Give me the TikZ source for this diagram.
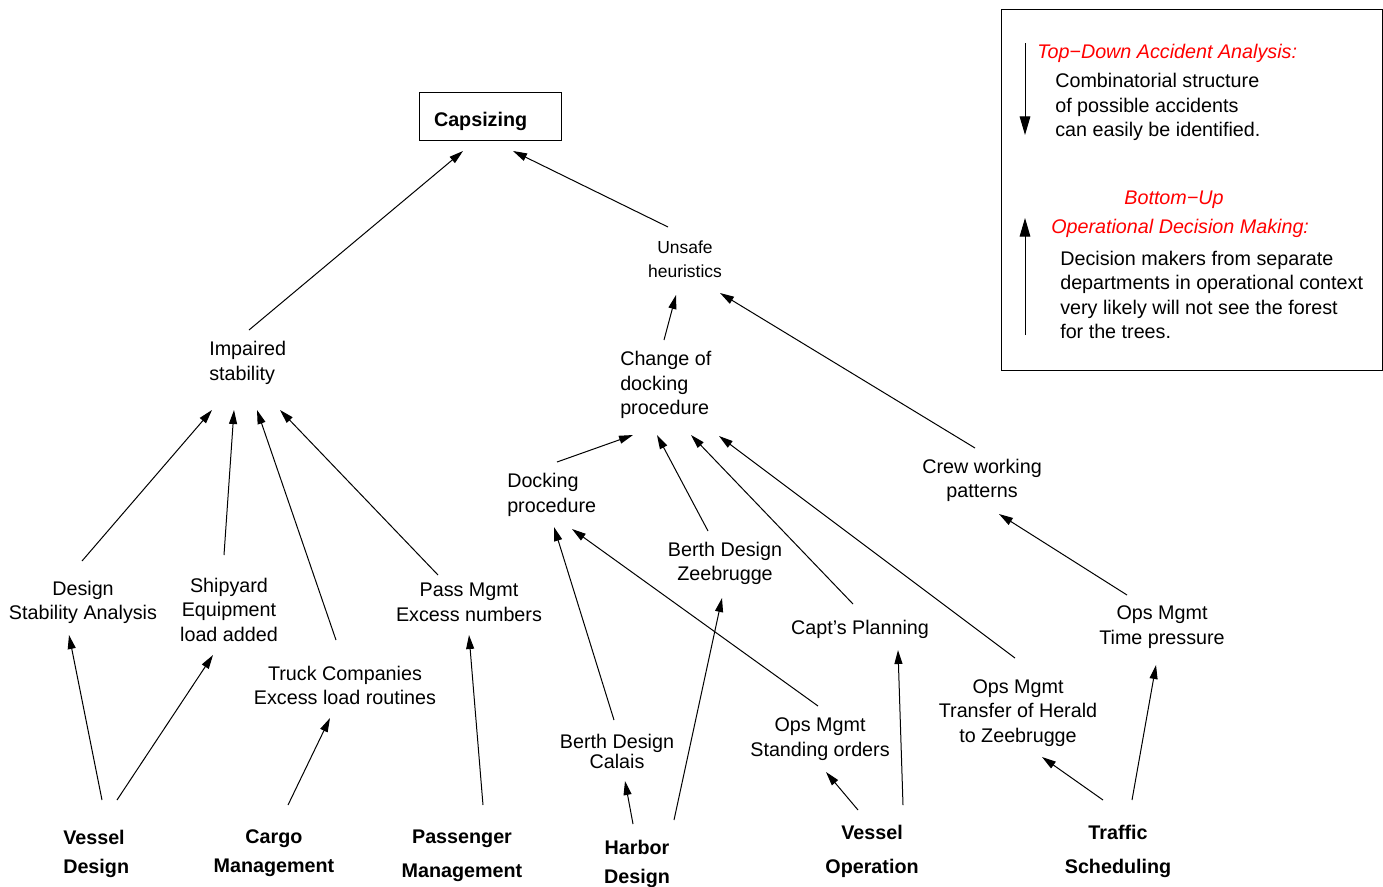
\documentclass[tikz,border=0pt]{standalone}
\usepackage{fontspec}
\setmainfont{Liberation Sans}
\usetikzlibrary{arrows.meta}
\begin{document}
\begin{tikzpicture}[x=0.75pt,y=-0.75pt,
  arr/.style={-{Triangle[length=10.5pt,width=6pt]}, line width=0.75pt},
  bigarr/.style={-{Triangle[length=14pt,width=8pt]}, line width=0.75pt},
  lbl/.style={font=\fontsize{14.8}{18.4}\selectfont, align=center, inner sep=0pt, yshift=-1.8pt},
  lbll/.style={lbl, align=left, anchor=west},
  small/.style={font=\fontsize{13.1}{18}\selectfont, align=center, inner sep=0pt, yshift=-1.2pt},
  bot/.style={font=\fontsize{14.8}{21.75}\selectfont\bfseries, align=center, inner sep=0pt, yshift=-1.5pt},
  botw/.style={font=\fontsize{14.8}{25.5}\selectfont\bfseries, align=center, inner sep=0pt, yshift=-1.5pt},
  legred/.style={font=\fontsize{14.8}{18.4}\selectfont\itshape, text=red, inner sep=0pt, yshift=-1.8pt},
  legtxt/.style={font=\fontsize{14.8}{18.4}\selectfont, align=left, anchor=west, inner sep=0pt, yshift=-1.8pt}]
\useasboundingbox (0,0) rectangle (1383,886);

% ---- nodes ----
\node[draw, line width=0.75pt, text width=84pt, inner xsep=11.25pt, inner ysep=0pt,
      text height=15.2pt, text depth=0pt,
      minimum height=36pt, align=left, font=\fontsize{14.8}{18.4}\selectfont\bfseries]
      (cap) at (490,116) {Capsizing};
\node[small] (uns) at (685,258) {Unsafe\\heuristics};
\node[lbll] (imp) at (209,360.5) {Impaired\\stability};
\node[lbll] (chg) at (620,382.5) {Change of\\docking\\procedure};
\node[lbll] (dock) at (507,492.5) {Docking\\procedure};
\node[lbl] (crew) at (982,478) {Crew working\\patterns};
\node[lbl] (bzee) at (725,561) {Berth Design\\Zeebrugge};
\node[lbl] (capt) at (860,627) {Capt's Planning};
\node[lbl] (opst) at (1162,624.5) {Ops Mgmt\\Time pressure};
\node[lbl] (dsa) at (83,600) {Design\\Stability Analysis};
\node[lbl] (ship) at (229,607.5) {Shipyard\\Equipment\\load added};
\node[lbl] (pass) at (469,600) {Pass Mgmt\\Excess numbers};
\node[lbl] (truck) at (345,683) {Truck Companies\\Excess load routines};
\node[lbl] (opher) at (1018,710.5) {Ops Mgmt\\Transfer of Herald\\to Zeebrugge};
\node[lbl] (opso) at (820,737) {Ops Mgmt\\Standing orders};
\node[lbl, font=\fontsize{14.8}{15}\selectfont] (bcal) at (617,749) {Berth Design\\Calais};

\node[bot, align=left, anchor=west] (vd) at (63,851.5) {Vessel\\Design};
\node[bot] (cm) at (274,851.5) {Cargo\\Management};
\node[botw] (pm) at (462,854) {Passenger\\Management};
\node[bot] (hd) at (637,861.5) {Harbor\\Design};
\node[botw] (vo) at (872,849) {Vessel\\Operation};
\node[botw] (ts) at (1118,849) {Traffic\\Scheduling};

% ---- connector end points ----
\coordinate (imp-o) at (249,330);   \coordinate (cap-i1) at (463,151);
\coordinate (uns-o) at (668,227);   \coordinate (cap-i2) at (513,151);
\coordinate (chg-o) at (664,340);   \coordinate (uns-i1) at (676,295);
\coordinate (crew-o) at (975,448);  \coordinate (uns-i2) at (720,293);
\coordinate (dock-o) at (557,462);  \coordinate (chg-i1) at (633,435);
\coordinate (bzee-o) at (708,531);  \coordinate (chg-i2) at (657,435);
\coordinate (capt-o) at (853,604);  \coordinate (chg-i3) at (691,435);
\coordinate (opher-o) at (1015,658);\coordinate (chg-i4) at (719,436);
\coordinate (dsa-o) at (82,561);    \coordinate (imp-i1) at (212,410);
\coordinate (ship-o) at (224,555);  \coordinate (imp-i2) at (234,410);
\coordinate (truck-o) at (336,640); \coordinate (imp-i3) at (257,410);
\coordinate (pass-o) at (438,575);  \coordinate (imp-i4) at (280,410);
\coordinate (vd-o1) at (102,800);   \coordinate (dsa-i) at (69,635);
\coordinate (vd-o2) at (117,800);   \coordinate (ship-i) at (213,655);
\coordinate (cm-o) at (288,805);    \coordinate (truck-i) at (330,718);
\coordinate (pm-o) at (483,805);    \coordinate (pass-i) at (469,635);
\coordinate (bcal-o) at (614,720);  \coordinate (dock-i1) at (554,527);
\coordinate (opso-o) at (818,706);  \coordinate (dock-i2) at (572,529);
\coordinate (hd-o1) at (633,824);   \coordinate (bcal-i) at (625,781);
\coordinate (hd-o2) at (674,820);   \coordinate (bzee-i) at (722,598);
\coordinate (vo-o1) at (858,810);   \coordinate (opso-i) at (826,772);
\coordinate (vo-o2) at (903,805);   \coordinate (capt-i) at (898,650);
\coordinate (opst-o) at (1127,595); \coordinate (crew-i) at (999,514);
\coordinate (ts-o1) at (1103,800);  \coordinate (opher-i) at (1042,757);
\coordinate (ts-o2) at (1132,800);  \coordinate (opst-i) at (1156,665);

% ---- connectors ----
\draw[arr] (imp-o) -- (cap-i1);
\draw[arr] (uns-o) -- (cap-i2);
\draw[arr] (chg-o) -- (uns-i1);
\draw[arr] (crew-o) -- (uns-i2);
\draw[arr] (dock-o) -- (chg-i1);
\draw[arr] (bzee-o) -- (chg-i2);
\draw[arr] (capt-o) -- (chg-i3);
\draw[arr] (opher-o) -- (chg-i4);
\draw[arr] (dsa-o) -- (imp-i1);
\draw[arr] (ship-o) -- (imp-i2);
\draw[arr] (truck-o) -- (imp-i3);
\draw[arr] (pass-o) -- (imp-i4);
\draw[arr] (vd-o1) -- (dsa-i);
\draw[arr] (vd-o2) -- (ship-i);
\draw[arr] (cm-o) -- (truck-i);
\draw[arr] (pm-o) -- (pass-i);
\draw[arr] (bcal-o) -- (dock-i1);
\draw[arr] (opso-o) -- (dock-i2);
\draw[arr] (hd-o1) -- (bcal-i);
\draw[arr] (hd-o2) -- (bzee-i);
\draw[arr] (vo-o1) -- (opso-i);
\draw[arr] (vo-o2) -- (capt-i);
\draw[arr] (opst-o) -- (crew-i);
\draw[arr] (ts-o1) -- (opher-i);
\draw[arr] (ts-o2) -- (opst-i);

% ---- legend ----
\node[draw, line width=0.75pt, minimum width=285.75pt, minimum height=270.75pt, inner sep=0pt]
  (legbox) at (1191.5,189.5) {};
\node[legred, anchor=west] (tdt) at (1037,51) {Top−Down Accident Analysis:};
\node[legtxt] (tdx) at (1055,104.5) {Combinatorial structure\\of possible accidents\\can easily be identified.};
\node[legred] (but) at (1174,197) {Bottom−Up};
\node[legred, anchor=west] (odm) at (1051,226) {Operational Decision Making:};
\node[legtxt] (odx) at (1060,292.5) {Decision makers from separate\\departments in operational context\\very likely will not see the forest\\for the trees.};
\coordinate (dn-s) at (1025,43);  \coordinate (dn-e) at (1025,135);
\coordinate (up-s) at (1025,335); \coordinate (up-e) at (1025,218);
\draw[bigarr] (dn-s) -- (dn-e);
\draw[bigarr] (up-s) -- (up-e);
\end{tikzpicture}
\end{document}
